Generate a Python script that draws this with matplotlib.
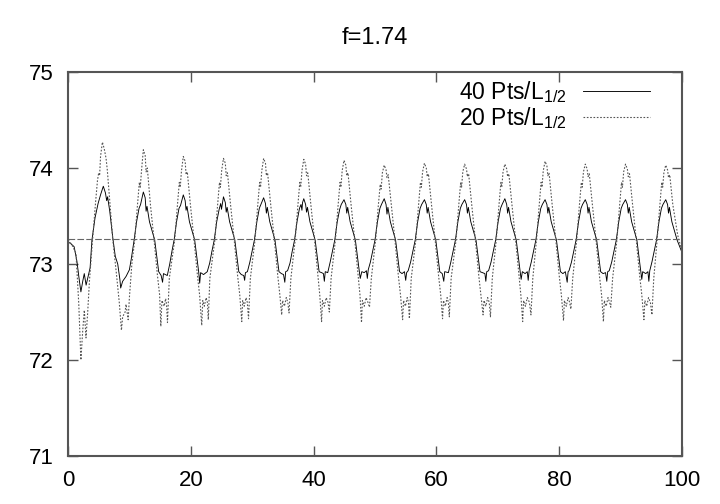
import matplotlib
matplotlib.use("Agg")
import matplotlib.pyplot as plt

# 40 Pts/L1/2 (solid)
x40 = [0.0, 0.5, 1.0, 1.45, 1.8, 2.1, 2.4, 2.65, 2.95, 3.35, 3.6, 3.9, 4.4, 4.9, 5.3, 5.75,
       6.1, 6.3, 6.45, 6.8, 7.3, 7.7, 8.1, 8.45, 8.58, 8.9, 9.45, 10.0, 10.3, 10.77,
       11.17, 11.57, 11.82, 12.27, 12.57, 12.72, 12.87, 13.27, 14.12, 14.47, 14.77, 15.17, 15.4, 15.55, 16.17, 16.57, 16.92,
       17.28, 17.68, 18.08, 18.33, 18.78, 19.08, 19.23, 19.38, 19.78, 20.63, 20.98, 21.28, 21.45, 21.6, 22.08, 22.68, 23.08, 23.43,
       23.82, 24.22, 24.62, 24.87, 25.0, 25.32, 25.62, 25.77, 25.92, 26.32, 27.17, 27.52, 27.82, 28.22, 28.62, 28.77, 28.9, 29.22, 29.62, 29.97,
       30.36, 30.76, 31.16, 31.41, 31.86, 32.16, 32.31, 32.46, 32.86, 33.71, 34.06, 34.36, 34.76, 35.1, 35.31, 35.45, 35.76, 36.16, 36.51,
       36.9, 37.3, 37.7, 37.95, 38.1, 38.2, 38.4, 38.7, 38.85, 39.0, 39.4, 40.25, 40.6, 40.9, 41.3, 41.6, 41.75, 41.9, 42.3, 42.7, 43.05,
       43.45, 43.85, 44.25, 44.5, 44.95, 45.25, 45.4, 45.55, 45.95, 46.8, 47.15, 47.45, 47.6, 47.85, 48.25, 48.6, 48.75, 48.9, 49.25, 49.6,
       50.0, 50.4, 50.8, 51.05, 51.5, 51.8, 51.95, 52.1, 52.5, 53.35, 53.7, 54.0, 54.4, 54.8, 55.0, 55.15, 55.4, 55.8, 56.15,
       56.55, 56.95, 57.35, 57.6, 58.05, 58.35, 58.5, 58.65, 59.05, 59.9, 60.25, 60.55, 60.95, 61.2, 61.35, 61.95, 62.35, 62.7,
       63.1, 63.5, 63.9, 64.15, 64.6, 64.9, 65.05, 65.2, 65.6, 66.45, 66.8, 67.1, 67.5, 67.9, 68.05, 68.2, 68.5, 68.9, 69.25,
       69.65, 70.05, 70.45, 70.7, 71.15, 71.45, 71.6, 71.75, 72.15, 73.0, 73.35, 73.65, 73.8, 74.0, 74.45, 74.8, 74.95, 75.1, 75.45, 75.8,
       76.2, 76.6, 77.0, 77.25, 77.7, 78.0, 78.15, 78.3, 78.7, 79.55, 79.9, 80.2, 80.6, 81.0, 81.3, 81.45, 81.6, 82.0, 82.35,
       82.75, 83.15, 83.55, 83.8, 84.25, 84.55, 84.7, 84.85, 85.25, 86.1, 86.45, 86.75, 87.15, 87.55, 87.75, 87.9, 88.15, 88.55, 88.9,
       89.3, 89.7, 90.1, 90.35, 90.8, 91.1, 91.25, 91.4, 91.8, 92.65, 93.0, 93.3, 93.45, 93.6, 94.1, 94.45, 94.6, 94.75, 95.1, 95.45,
       95.85, 96.25, 96.65, 96.9, 97.35, 97.65, 97.8, 97.95, 98.35, 99.2, 100.0]
y40 = [73.23, 73.21, 73.18, 73.03, 72.85, 72.71, 72.82, 72.90, 72.78, 72.89, 72.96, 73.25, 73.48, 73.63, 73.72, 73.81,
       73.74, 73.66, 73.70, 73.55, 73.27, 73.08, 73.00, 72.84, 72.75, 72.82, 72.87, 72.94, 73.05, 73.25,
       73.44, 73.58, 73.62, 73.75, 73.69, 73.55, 73.60, 73.44, 73.25, 73.07, 72.92, 72.88, 72.81, 72.90, 72.88, 73.00, 73.13,
       73.25, 73.44, 73.58, 73.61, 73.72, 73.66, 73.56, 73.60, 73.44, 73.25, 73.07, 72.92, 72.80, 72.91, 72.89, 72.92, 73.01, 73.13,
       73.25, 73.44, 73.57, 73.63, 73.57, 73.70, 73.64, 73.54, 73.59, 73.44, 73.25, 73.07, 72.92, 72.89, 72.88, 72.83, 72.91, 72.92, 73.02, 73.13,
       73.25, 73.44, 73.58, 73.62, 73.69, 73.63, 73.53, 73.59, 73.44, 73.25, 73.07, 72.92, 72.90, 72.89, 72.81, 72.92, 72.93, 73.01, 73.13,
       73.25, 73.44, 73.58, 73.62, 73.56, 73.64, 73.68, 73.62, 73.54, 73.59, 73.44, 73.25, 73.07, 72.92, 72.91, 72.90, 72.82, 72.92, 72.91, 73.02, 73.13,
       73.25, 73.44, 73.57, 73.62, 73.67, 73.62, 73.53, 73.59, 73.44, 73.25, 73.07, 72.92, 72.85, 72.92, 72.91, 72.93, 72.85, 72.94, 73.02, 73.13,
       73.25, 73.44, 73.58, 73.62, 73.68, 73.62, 73.52, 73.59, 73.44, 73.25, 73.07, 72.92, 72.90, 72.92, 72.83, 72.91, 72.93, 73.02, 73.13,
       73.25, 73.44, 73.58, 73.62, 73.67, 73.62, 73.53, 73.59, 73.44, 73.25, 73.07, 72.92, 72.90, 72.82, 72.92, 72.91, 73.02, 73.13,
       73.25, 73.44, 73.58, 73.62, 73.67, 73.62, 73.53, 73.59, 73.44, 73.25, 73.07, 72.92, 72.91, 72.90, 72.82, 72.92, 72.93, 73.02, 73.13,
       73.25, 73.44, 73.58, 73.62, 73.68, 73.62, 73.53, 73.59, 73.44, 73.25, 73.07, 72.92, 72.84, 72.92, 72.90, 72.92, 72.83, 72.93, 73.02, 73.13,
       73.25, 73.44, 73.58, 73.62, 73.67, 73.62, 73.53, 73.59, 73.44, 73.25, 73.07, 72.92, 72.90, 72.92, 72.81, 72.92, 72.93, 73.02, 73.13,
       73.25, 73.44, 73.58, 73.62, 73.67, 73.62, 73.53, 73.59, 73.44, 73.25, 73.07, 72.92, 72.90, 72.91, 72.82, 72.92, 72.93, 73.02, 73.13,
       73.25, 73.44, 73.58, 73.62, 73.67, 73.62, 73.53, 73.59, 73.44, 73.25, 73.07, 72.92, 72.84, 72.92, 72.90, 72.92, 72.82, 72.93, 73.02, 73.13,
       73.25, 73.44, 73.58, 73.62, 73.67, 73.62, 73.53, 73.59, 73.44, 73.25, 73.12]

# 20 Pts/L1/2 (dotted)
x20 = [0.0, 0.3, 0.8, 1.3, 1.75, 2.1, 2.4, 2.66, 2.93, 3.2, 3.5, 4.0, 4.5, 4.8, 5.0, 5.15, 5.3, 5.6,
       5.9, 6.2, 6.4, 6.75, 7.3, 7.85, 8.35, 8.7, 8.9, 9.3, 9.45, 9.8, 10.0, 10.4,
       10.87, 11.27, 11.62, 11.77, 11.97, 12.27, 12.57, 12.72, 12.92, 13.42, 14.02, 14.57, 14.92, 15.12, 15.3, 15.67, 15.9, 16.05, 16.2, 16.5,
       17.38, 17.78, 18.13, 18.28, 18.48, 18.78, 19.08, 19.23, 19.43, 19.93, 20.53, 21.08, 21.43, 21.78, 21.95, 22.2, 22.5, 22.7, 22.85, 23.1,
       23.92, 24.32, 24.67, 24.82, 25.02, 25.32, 25.62, 25.77, 25.97, 26.47, 27.07, 27.62, 27.97, 28.3, 28.45, 28.7, 29.0, 29.2, 29.4, 29.7,
       30.46, 30.86, 31.21, 31.36, 31.56, 31.86, 32.16, 32.31, 32.51, 33.01, 33.61, 34.16, 34.5, 34.8, 34.95, 35.25, 35.55, 35.8, 36.0, 36.3,
       37.0, 37.4, 37.75, 37.9, 38.1, 38.4, 38.7, 38.85, 39.05, 39.55, 40.15, 40.7, 41.0, 41.3, 41.45, 41.75, 42.05, 42.35, 42.56, 42.85,
       43.55, 43.95, 44.3, 44.45, 44.65, 44.95, 45.25, 45.4, 45.6, 46.1, 46.7, 47.25, 47.55, 47.8, 47.95, 48.25, 48.55, 48.85, 49.1, 49.4,
       50.1, 50.5, 50.85, 51.0, 51.2, 51.5, 51.8, 51.95, 52.15, 52.65, 53.25, 53.8, 54.15, 54.5, 54.65, 54.95, 55.25, 55.45, 55.6, 55.9,
       56.65, 57.05, 57.4, 57.55, 57.75, 58.05, 58.35, 58.5, 58.7, 59.2, 59.8, 60.35, 60.7, 61.0, 61.15, 61.45, 61.75, 61.95, 62.1, 62.4,
       63.2, 63.6, 63.95, 64.1, 64.3, 64.6, 64.9, 65.05, 65.25, 65.75, 66.35, 66.9, 67.25, 67.6, 67.75, 68.05, 68.35, 68.6, 68.8, 69.1,
       69.75, 70.15, 70.5, 70.65, 70.85, 71.15, 71.45, 71.6, 71.8, 72.3, 72.9, 73.45, 73.75, 74.05, 74.2, 74.5, 74.8, 75.15, 75.4, 75.7,
       76.3, 76.7, 77.05, 77.2, 77.4, 77.7, 78.0, 78.15, 78.35, 78.85, 79.45, 80.0, 80.35, 80.7, 80.85, 81.15, 81.45, 81.7, 81.9, 82.2,
       82.85, 83.25, 83.6, 83.75, 83.95, 84.25, 84.55, 84.7, 84.9, 85.4, 86.0, 86.55, 86.9, 87.2, 87.35, 87.65, 87.95, 88.2, 88.4, 88.7,
       89.4, 89.8, 90.15, 90.3, 90.5, 90.8, 91.1, 91.25, 91.45, 91.95, 92.55, 93.1, 93.45, 93.8, 93.95, 94.25, 94.55, 94.85, 95.1, 95.4,
       95.95, 96.35, 96.7, 96.85, 97.05, 97.35, 97.65, 97.8, 98.0, 98.5, 99.3, 100.0]
y20 = [73.25, 73.23, 73.18, 73.11, 72.59, 72.00, 72.31, 72.52, 72.23, 72.49, 72.83, 73.25, 73.65, 73.87, 73.95, 73.92, 74.12, 74.27,
       74.20, 74.10, 73.98, 73.70, 73.25, 72.92, 72.60, 72.31, 72.45, 72.50, 72.58, 72.42, 72.65, 73.00,
       73.25, 73.58, 73.85, 73.80, 73.97, 74.19, 74.13, 73.96, 74.00, 73.62, 73.25, 72.88, 72.68, 72.35, 72.62, 72.56, 72.64, 72.58, 72.39, 72.85,
       73.25, 73.58, 73.85, 73.80, 73.97, 74.12, 74.07, 73.93, 73.96, 73.62, 73.25, 72.88, 72.68, 72.36, 72.62, 72.56, 72.65, 72.60, 72.42, 72.85,
       73.25, 73.58, 73.85, 73.80, 73.97, 74.10, 74.05, 73.92, 73.95, 73.62, 73.25, 72.88, 72.68, 72.40, 72.62, 72.56, 72.65, 72.60, 72.43, 72.85,
       73.25, 73.58, 73.85, 73.80, 73.97, 74.10, 74.05, 73.92, 73.95, 73.62, 73.25, 72.88, 72.68, 72.47, 72.62, 72.56, 72.65, 72.60, 72.49, 72.85,
       73.25, 73.58, 73.85, 73.80, 73.97, 74.09, 74.04, 73.92, 73.95, 73.62, 73.25, 72.88, 72.68, 72.40, 72.62, 72.56, 72.65, 72.60, 72.50, 72.85,
       73.25, 73.58, 73.85, 73.80, 73.97, 74.08, 74.03, 73.92, 73.95, 73.62, 73.25, 72.88, 72.68, 72.39, 72.62, 72.56, 72.65, 72.60, 72.55, 72.85,
       73.25, 73.58, 73.83, 73.78, 73.95, 74.03, 73.98, 73.90, 73.93, 73.62, 73.25, 72.88, 72.68, 72.42, 72.62, 72.56, 72.65, 72.60, 72.43, 72.85,
       73.25, 73.58, 73.85, 73.80, 73.96, 74.05, 74.00, 73.91, 73.94, 73.62, 73.25, 72.88, 72.68, 72.43, 72.62, 72.56, 72.65, 72.60, 72.45, 72.85,
       73.25, 73.58, 73.85, 73.80, 73.96, 74.04, 73.99, 73.91, 73.94, 73.62, 73.25, 72.88, 72.68, 72.47, 72.62, 72.56, 72.65, 72.60, 72.45, 72.85,
       73.25, 73.58, 73.85, 73.80, 73.96, 74.04, 73.99, 73.91, 73.94, 73.62, 73.25, 72.88, 72.68, 72.40, 72.62, 72.56, 72.65, 72.60, 72.47, 72.85,
       73.25, 73.58, 73.85, 73.80, 73.97, 74.07, 74.02, 73.92, 73.95, 73.62, 73.25, 72.88, 72.68, 72.41, 72.62, 72.56, 72.65, 72.60, 72.53, 72.85,
       73.25, 73.58, 73.85, 73.80, 73.96, 74.04, 73.99, 73.91, 73.94, 73.62, 73.25, 72.88, 72.68, 72.40, 72.62, 72.56, 72.65, 72.60, 72.55, 72.85,
       73.25, 73.58, 73.85, 73.80, 73.96, 74.04, 73.99, 73.91, 73.94, 73.62, 73.25, 72.88, 72.68, 72.42, 72.62, 72.56, 72.65, 72.60, 72.47, 72.85,
       73.25, 73.58, 73.85, 73.80, 73.95, 74.03, 73.98, 73.90, 73.93, 73.62, 73.30, 73.13]

mean_level = 73.26
labels = ["40 Pts/L$_{1/2}$", "20 Pts/L$_{1/2}$"]
xticks = [0, 20, 40, 60, 80, 100]
yticks = [71, 72, 73, 74, 75]

plt.rcParams['font.family'] = ['Liberation Sans', 'DejaVu Sans']
plt.rcParams['mathtext.fontset'] = 'custom'
plt.rcParams['mathtext.rm'] = 'Liberation Sans'
plt.rcParams['mathtext.it'] = 'Liberation Sans:italic'

fig = plt.figure(figsize=(7.2, 5.04), dpi=100)
ax = fig.add_axes([68/720, 48/504, 614/720, 384/504])

ax.plot(x40, y40, color='black', lw=0.65, label=labels[0])
ax.plot(x20, y20, color='#555555', lw=0.8, ls=(0, (1.5, 1.5)), label=labels[1])
ax.axhline(mean_level, color='#666666', lw=0.8, ls=(0, (6, 2)))

ax.set_xlim(0, 100)
ax.set_ylim(71, 75)
ax.set_xticks(xticks)
ax.set_yticks(yticks)
ax.tick_params(direction='in', length=7, width=1, top=True, right=True,
               labelsize=16, color='#555555')
ax.tick_params(axis='x', pad=10)
ax.tick_params(axis='y', pad=10)
for s in ax.spines.values():
    s.set_linewidth(1.5)
    s.set_color('#555555')

fig.text(375/720, 1 - 38/504, "f=1.74", ha='center', va='center', fontsize=17)

ax.legend(loc='upper right', frameon=False, markerfirst=False, fontsize=16.5,
          handlelength=2.9, handletextpad=0.75, labelspacing=0.0,
          bbox_to_anchor=(1 - 30/614, 1 - 5/384), borderaxespad=0.0, borderpad=0.1)

fig.savefig("out.png", dpi=100)
